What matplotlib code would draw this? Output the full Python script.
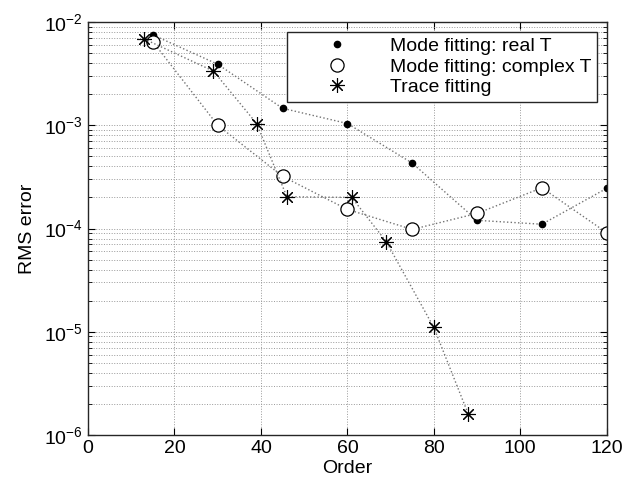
import numpy as np
import matplotlib
matplotlib.use("Agg")
import matplotlib.pyplot as plt
from matplotlib.lines import Line2D

plt.rcParams['font.family'] = ['Liberation Sans', 'DejaVu Sans']
plt.rcParams['mathtext.default'] = 'regular'

# mode fitting, real T
order_real = [15, 30, 45, 60, 75, 90, 105, 120]
rms_real = [7.5e-3, 3.9e-3, 1.46e-3, 1.04e-3, 4.3e-4, 1.2e-4, 1.1e-4, 2.45e-4]

# mode fitting, complex T
order_cplx = [15, 30, 45, 60, 75, 90, 105, 120]
rms_cplx = [6.45e-3, 1.0e-3, 3.2e-4, 1.53e-4, 9.8e-5, 1.4e-4, 2.48e-4, 9.1e-5]

# trace fitting
order_trace = [13, 29, 39, 46, 61, 69, 80, 88]
rms_trace = [6.85e-3, 3.35e-3, 1.04e-3, 2.03e-4, 2.0e-4, 7.45e-5, 1.1e-5, 1.58e-6]

labels = ['Mode fitting: real T', 'Mode fitting: complex T', 'Trace fitting']

fig = plt.figure(figsize=(6.38, 4.83), dpi=100)
ax = fig.add_axes([0.138, 0.0994, 0.813, 0.855])

lc = '0.45'
star = (8, 2, 0)
ax.plot(order_real, rms_real, ls=':', color=lc, lw=1.0, marker='o', ms=4.5,
        mfc='k', mec='k')
ax.plot(order_cplx, rms_cplx, ls=':', color=lc, lw=1.0, marker='o', ms=9.5,
        mfc='white', mec='k', mew=0.9)
ax.plot(order_trace, rms_trace, ls=':', color=lc, lw=1.0, marker=star, ms=10.5,
        mec='k', mew=0.8)

ax.set_yscale('log')
ax.set_xlim(0, 120)
ax.set_ylim(1e-6, 1e-2)
ax.set_xticks([0, 20, 40, 60, 80, 100, 120])

ax.grid(True, which='major', axis='both', ls=':', color='0.6', lw=0.7)
ax.grid(True, which='minor', axis='y', ls=':', color='0.6', lw=0.7)
ax.set_axisbelow(True)

ax.tick_params(which='both', direction='in', top=True, right=True, labelsize=14)
ax.tick_params(which='major', length=5)
ax.tick_params(which='minor', length=3)
for s in ax.spines.values():
    s.set_linewidth(1.0)
    s.set_color('0.15')

ax.set_xlabel('Order', fontsize=14, labelpad=2)
ax.set_ylabel('RMS error', fontsize=14, labelpad=6)

handles = [
    Line2D([], [], ls='none', marker='o', ms=4.5, mfc='k', mec='k'),
    Line2D([], [], ls='none', marker='o', ms=9.5, mfc='white', mec='k', mew=0.9),
    Line2D([], [], ls='none', marker=star, ms=10.5, mec='k', mew=0.8),
]
leg = ax.legend(handles, labels, loc='upper right', fontsize=14, fancybox=False,
                framealpha=1, edgecolor='0.15', borderpad=0.3, handlelength=4.6,
                handletextpad=0.4, labelspacing=0.15, borderaxespad=0.5)
leg.get_frame().set_linewidth(1.0)

fig.savefig('out.png', dpi=100)
